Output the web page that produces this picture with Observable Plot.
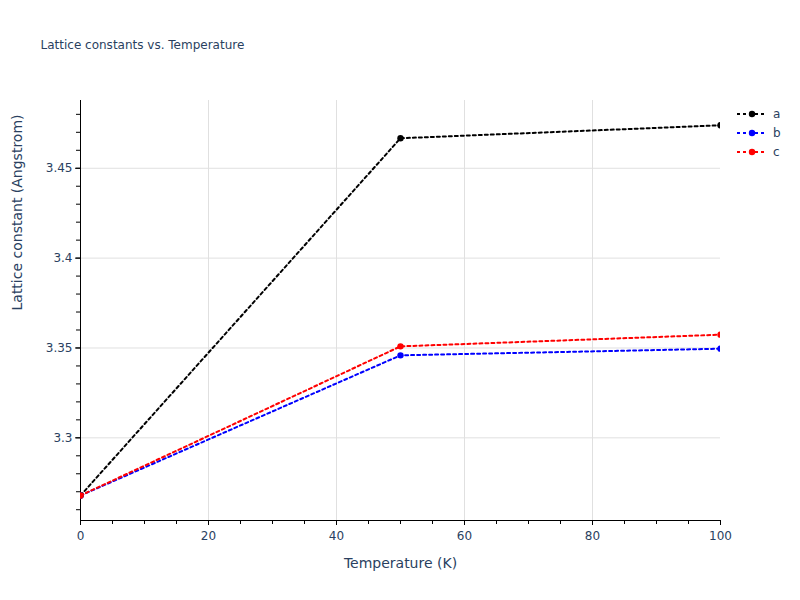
<!DOCTYPE html>
<html><head><meta charset="utf-8">
<script src="https://cdn.jsdelivr.net/npm/d3@7"></script>
<script src="https://cdn.jsdelivr.net/npm/@observablehq/plot@0.6"></script>
<style>
body{margin:0;background:#fff;font-family:"DejaVu Sans",sans-serif}
#wrap{position:relative;width:800px;height:600px}
#legend{position:absolute;left:0;top:0;pointer-events:none}
</style>
</head><body><div id="wrap"></div>
<script>
const temperatures = [0, 50, 100];
const aValues = [3.2679, 3.4667, 3.4739];
const bValues = [3.2679, 3.3459, 3.3496];
const cValues = [3.2679, 3.3509, 3.3574];
const seriesNames = ["a", "b", "c"];
const seriesColors = ["black", "blue", "red"];
const xTicks = [0, 20, 40, 60, 80, 100];
const xMinorTicks = d3.range(0, 101, 5);
const yTicks = [3.3, 3.35, 3.4, 3.45];
const yMinorTicks = d3.range(326, 349).map(d => d / 100);
const xDomain = [0, 100];
const yDomain = [3.254, 3.4877];
const titleText = "Lattice constants vs. Temperature";
const xTitle = "Temperature (K)";
const yTitle = "Lattice constant (Angstrom)";

const seriesValues = [aValues, bValues, cValues];
const rows = seriesNames.map((s, i) => temperatures.map((t, j) => ({series: s, T: t, v: seriesValues[i][j]})));

const FONT = "'DejaVu Sans', sans-serif";
const fontColor = "#2a3f5f";
const marks = [
  Plot.gridX({ticks: xTicks.filter(d => d > 0 && d < 100), stroke: "#e0e0e0", strokeOpacity: 1}),
  Plot.gridY({ticks: yTicks, stroke: "#e0e0e0", strokeOpacity: 1}),
  Plot.axisX({ticks: xMinorTicks, tickSize: 4, text: null, label: null, stroke: "black"}),
  Plot.axisY({ticks: yMinorTicks, tickSize: 4, text: null, label: null, stroke: "black"}),
  Plot.axisX({ticks: xTicks, tickSize: 5, tickPadding: 6, label: null, stroke: "black", fill: fontColor, fontSize: 12}),
  Plot.axisY({ticks: yTicks, tickSize: 5, tickPadding: 3, label: null, stroke: "black", fill: fontColor, fontSize: 12, tickFormat: d => String(+d.toFixed(3))}),
  Plot.ruleX([xDomain[0]], {stroke: "black", strokeWidth: 1}),
  Plot.ruleY([yDomain[0]], {stroke: "black", strokeWidth: 1})
];
rows.forEach((r, i) => {
  marks.push(Plot.line(r, {x: "T", y: "v", stroke: seriesColors[i], strokeWidth: 2, strokeDasharray: "3,3", clip: true}));
  marks.push(Plot.dot(r, {x: "T", y: "v", fill: seriesColors[i], r: 3.2, clip: true}));
});
marks.push(
  Plot.text([titleText], {frameAnchor: "top-left", dx: -40, dy: -55, lineAnchor: "middle", textAnchor: "start", fontSize: 12, fill: fontColor}),
  Plot.text([xTitle], {frameAnchor: "bottom", dy: 43, lineAnchor: "middle", fontSize: 14, fill: fontColor}),
  Plot.text([yTitle], {frameAnchor: "left", dx: -63, rotate: -90, fontSize: 14, fill: fontColor})
);

const chart = Plot.plot({
  width: 800, height: 600,
  marginLeft: 80, marginRight: 80, marginTop: 100, marginBottom: 80,
  x: {domain: xDomain},
  y: {domain: yDomain},
  style: {fontFamily: FONT, fontSize: "12px", background: "white"},
  marks
});
const wrap = document.getElementById("wrap");
wrap.appendChild(chart);

const leg = d3.select(wrap).append("svg").attr("id", "legend").attr("width", 800).attr("height", 600);
seriesNames.forEach((s, i) => {
  const y = 114 + i * 19;
  const g = leg.append("g").attr("transform", `translate(0,${y})`);
  g.append("line").attr("x1", 737).attr("x2", 767).attr("stroke", seriesColors[i]).attr("stroke-width", 2).attr("stroke-dasharray", "3,3");
  g.append("circle").attr("cx", 752).attr("r", 3.2).attr("fill", seriesColors[i]);
  g.append("text").attr("x", 773).attr("dy", "0.35em").attr("fill", fontColor).attr("font-size", 12).attr("font-family", FONT).text(s);
});
</script>
</body></html>
